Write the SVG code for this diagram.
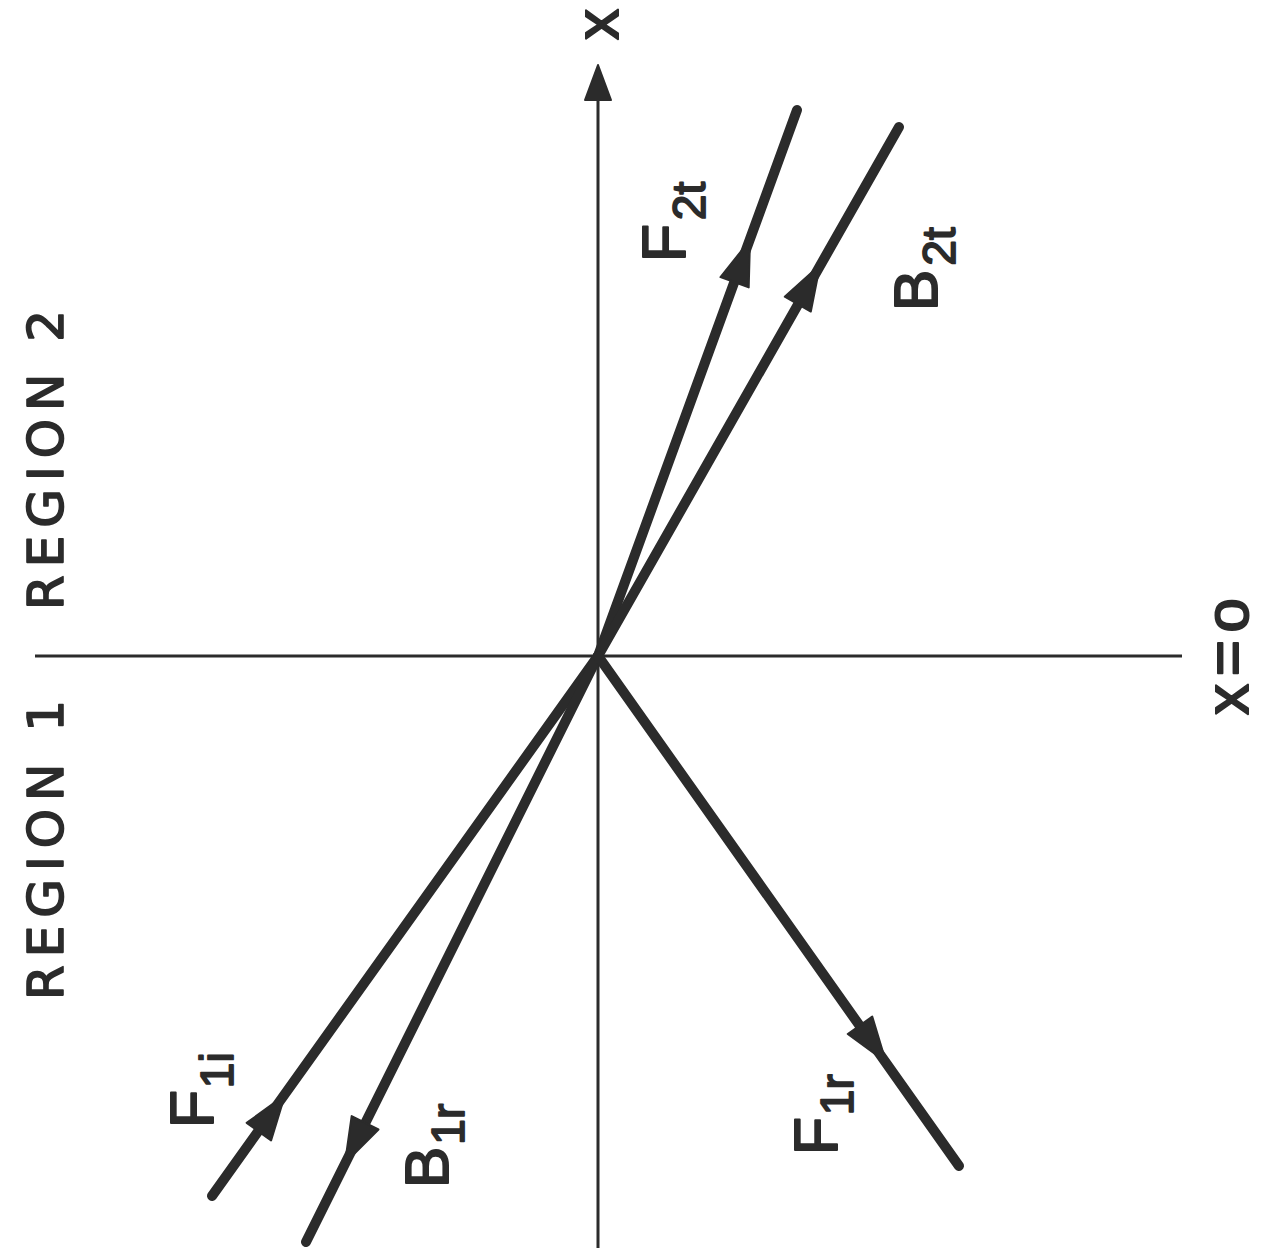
<svg xmlns="http://www.w3.org/2000/svg" width="1264" height="1252" viewBox="0 0 1264 1252">
<style>
.ax{stroke:#2b2b2b;stroke-width:3;fill:none}
.ray{stroke:#2b2b2b;stroke-width:10;stroke-linecap:round;fill:none}
.ah{fill:#2b2b2b;stroke:#2b2b2b;stroke-width:2;stroke-linejoin:round}
text{font-family:"Liberation Sans",Arial,sans-serif;fill:#2b2b2b;stroke:#2b2b2b;stroke-linejoin:round}
.big{font-size:50px;stroke-width:1.6;font-family:"DejaVu Sans","Liberation Sans",sans-serif}
.lbl{font-size:62px;stroke-width:2}
.sub{font-size:46px;stroke-width:1.8}
</style>
<defs>
<path id="head" d="M0,0 L-45,-15 L-45,15 Z"/>
</defs>
<rect width="1264" height="1252" fill="#ffffff"/>
<g id="connectors">
<line class="ax" x1="35" y1="656" x2="1182" y2="656"/>
<line class="ax" x1="598" y1="1248" x2="598" y2="95"/>
<path class="ah" d="M598,65 L611,100 L585,100 Z"/>
<line class="ray" x1="598" y1="656" x2="797" y2="110"/>
<line class="ray" x1="598" y1="656" x2="899" y2="127"/>
<line class="ray" x1="212" y1="1196" x2="598" y2="656"/>
<line class="ray" x1="598" y1="656" x2="306" y2="1242"/>
<line class="ray" x1="598" y1="656" x2="959" y2="1166"/>
<use href="#head" class="ah" transform="translate(750,240) rotate(-70)"/>
<use href="#head" class="ah" transform="translate(820,265) rotate(-60.4)"/>
<use href="#head" class="ah" transform="translate(285,1095) rotate(-54.5)"/>
<use href="#head" class="ah" transform="translate(345,1163) rotate(116.5)"/>
<use href="#head" class="ah" transform="translate(886,1062) rotate(54.7)"/>
</g>
<g id="axis-x-label"><text class="lbl" transform="translate(618,40) rotate(-90)">x</text></g>
<g id="region2"><text class="big" transform="translate(63,610) rotate(-90)" textLength="300" lengthAdjust="spacing">REGION 2</text></g>
<g id="region1"><text class="big" transform="translate(63,1000) rotate(-90)" textLength="300" lengthAdjust="spacing">REGION 1</text></g>
<g id="boundary-label"><text class="lbl" transform="translate(1248,715) rotate(-90)" textLength="117" lengthAdjust="spacing">x=o</text></g>
<g id="F2t"><text class="lbl" transform="translate(685,262) rotate(-90)">F<tspan class="sub" dx="4" dy="20">2t</tspan></text></g>
<g id="B2t"><text class="lbl" transform="translate(937,311) rotate(-90)">B<tspan class="sub" dx="4" dy="18">2t</tspan></text></g>
<g id="F1i"><text class="lbl" transform="translate(213,1128) rotate(-90)">F<tspan class="sub" dx="2" dy="20">1i</tspan></text></g>
<g id="B1r"><text class="lbl" transform="translate(448,1188) rotate(-90)">B<tspan class="sub" dx="2" dy="16">1r</tspan></text></g>
<g id="F1r"><text class="lbl" transform="translate(837,1155) rotate(-90)">F<tspan class="sub" dx="2" dy="16">1r</tspan></text></g>
</svg>
